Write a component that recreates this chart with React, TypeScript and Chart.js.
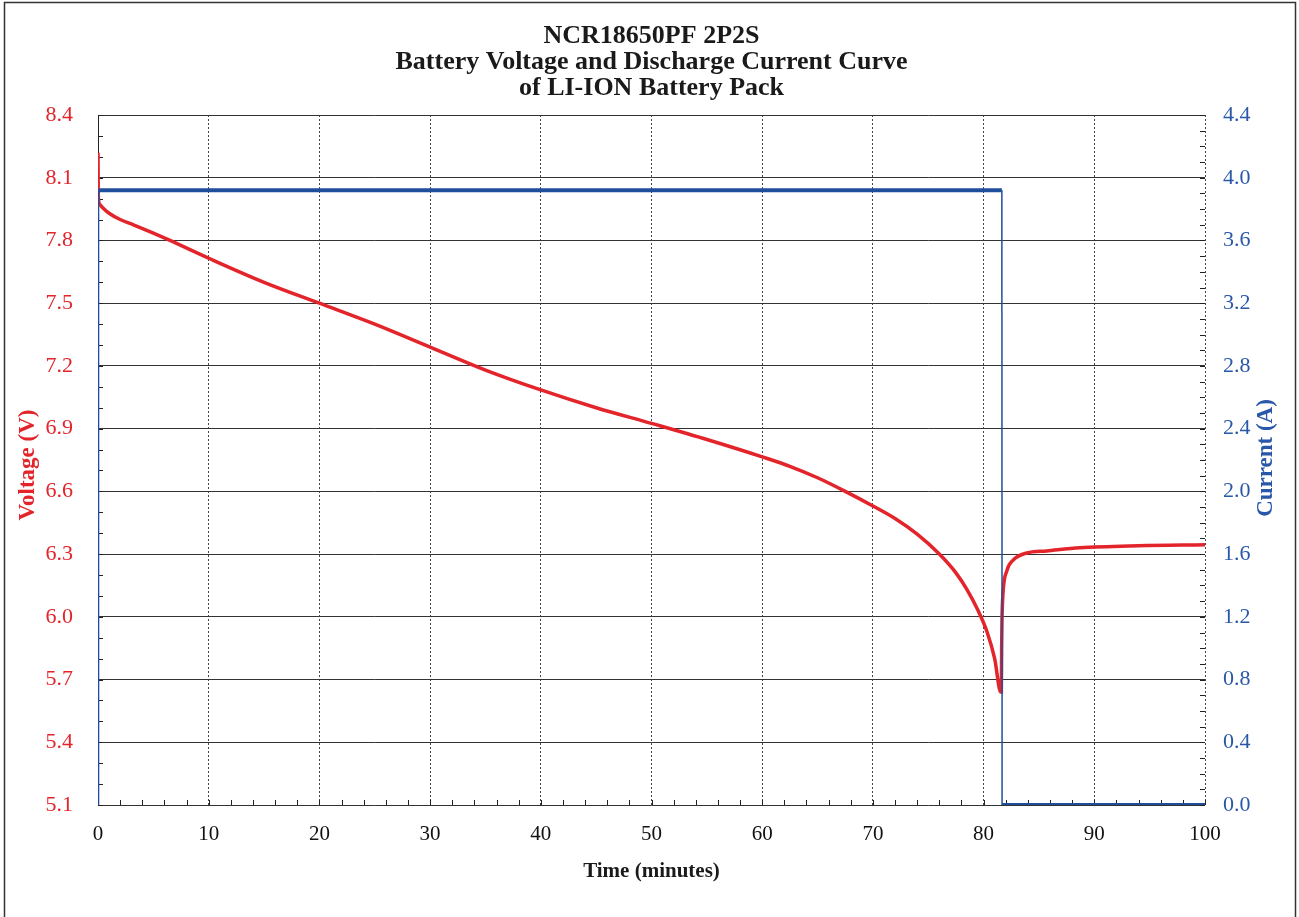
import React, { useEffect, useRef } from 'react';
import { Chart, registerables } from 'chart.js';

Chart.register(...registerables);

// ---- Text ----
const TITLE_LINES = ['NCR18650PF 2P2S', 'Battery Voltage and Discharge Current Curve', 'of LI-ION Battery Pack'];
const X_TITLE = 'Time (minutes)';
const Y_LEFT_TITLE = 'Voltage (V)';
const Y_RIGHT_TITLE = 'Current (A)';

// ---- Data ----
const voltageTime = [
  0, 0.02, 0.06, 0.2, 0.45, 1, 2, 3.2, 5, 6.5, 10, 15, 20, 25, 30, 35, 40, 45, 50, 55, 60, 62.5, 65, 67.5,
  70, 72, 74, 76, 77.5, 78.5, 79.5, 80.3, 81, 81.55, 81.6, 81.63, 81.66, 81.75, 82.1, 82.65, 83.9,
  85.7, 88.7, 94, 100,
];
const voltageValues = [
  8.22, 8.05, 7.99, 7.97, 7.955, 7.93, 7.9, 7.875, 7.835, 7.8, 7.715, 7.6, 7.5, 7.4, 7.29, 7.18, 7.085, 7.0,
  6.925, 6.848, 6.765, 6.72, 6.665, 6.6, 6.53, 6.47, 6.395, 6.3, 6.21, 6.13, 6.03, 5.93, 5.8, 5.64,
  5.64, 5.85, 5.98, 6.11, 6.22, 6.27, 6.305, 6.315, 6.33, 6.34, 6.345,
];
const currentTime = [0, 0.05, 81.65, 81.67, 100];
const currentValues = [0, 3.92, 3.92, 0, 0];

// ---- Axis ranges / ticks ----
const X_MIN = 0;
const X_MAX = 100;
const X_STEP = 10;
const X_MINOR = 2;
const V_MIN = 5.1;
const V_MAX = 8.4;
const V_STEP = 0.3;
const V_MINOR = 0.1;
const I_MIN = 0;
const I_MAX = 4.4;
const I_STEP = 0.4;
const I_MINOR = 0.1;

const RED = '#e3242b';
const BLUE = '#1f4f9c';
const BLUE_TEXT = '#2a58a8';
const SERIF = '"Liberation Serif", "Times New Roman", serif';

const W = 1299;
const H = 917;

const decorPlugin = {
  id: 'decor',
  beforeDatasetsDraw(chart: any) {
    const { ctx, chartArea, scales } = chart;
    ctx.save();
    ctx.strokeStyle = '#222';
    ctx.lineWidth = 1;
    ctx.beginPath();
    ctx.moveTo(Math.round(chartArea.left) + 0.5, chartArea.top);
    ctx.lineTo(Math.round(chartArea.left) + 0.5, chartArea.bottom);
    ctx.stroke();
    const L = 5;
    const y = scales.y;
    const n1 = Math.round((V_MAX - V_MIN) / V_MINOR);
    ctx.beginPath();
    for (let k = 0; k <= n1; k++) {
      const py = Math.round(y.getPixelForValue(V_MIN + k * V_MINOR)) + 0.5;
      ctx.moveTo(chartArea.left, py);
      ctx.lineTo(chartArea.left + L, py);
    }
    const y1 = scales.y1;
    const n2 = Math.round((I_MAX - I_MIN) / I_MINOR);
    for (let k = 0; k <= n2; k++) {
      const py = Math.round(y1.getPixelForValue(I_MIN + k * I_MINOR)) + 0.5;
      ctx.moveTo(chartArea.right, py);
      ctx.lineTo(chartArea.right - L, py);
    }
    const x = scales.x;
    const n3 = Math.round((X_MAX - X_MIN) / X_MINOR);
    for (let k = 0; k <= n3; k++) {
      const px = Math.round(x.getPixelForValue(X_MIN + k * X_MINOR)) + 0.5;
      ctx.moveTo(px, chartArea.bottom);
      ctx.lineTo(px, chartArea.bottom - L);
    }
    ctx.stroke();
    ctx.restore();
  },
  afterDraw(chart: any) {
    const { ctx, chartArea } = chart;
    ctx.save();
    ctx.strokeStyle = '#333';
    ctx.lineWidth = 1.5;
    ctx.strokeRect(4.5, 2.5, 1291, 1000);
    ctx.fillStyle = '#1a1a1a';
    ctx.textAlign = 'center';
    ctx.textBaseline = 'middle';
    ctx.font = `bold 26px ${SERIF}`;
    const cx = (chartArea.left + chartArea.right) / 2;
    TITLE_LINES.forEach((t, i) => ctx.fillText(t, cx, 36 + i * 26));
    ctx.font = `bold 21px ${SERIF}`;
    ctx.fillText(X_TITLE, cx, 872);
    const cy = (chartArea.top + chartArea.bottom) / 2;
    ctx.font = `bold 23px ${SERIF}`;
    ctx.save();
    ctx.translate(28, cy + 5);
    ctx.rotate(-Math.PI / 2);
    ctx.fillStyle = RED;
    ctx.fillText(Y_LEFT_TITLE, 0, 0);
    ctx.restore();
    ctx.save();
    ctx.translate(1266, cy - 2);
    ctx.rotate(-Math.PI / 2);
    ctx.fillStyle = BLUE_TEXT;
    ctx.fillText(Y_RIGHT_TITLE, 0, 0);
    ctx.restore();
    ctx.restore();
  },
};

export default function App() {
  const ref = useRef<HTMLCanvasElement | null>(null);
  useEffect(() => {
    if (!ref.current) return;
    const chart = new Chart(ref.current, {
      type: 'line',
      data: {
        datasets: [
          {
            label: 'Current',
            data: currentTime.map((t, i) => ({ x: t, y: currentValues[i] })),
            yAxisID: 'y1',
            borderColor: BLUE,
            borderWidth: 4,
            pointRadius: 0,
            tension: 0,
            segment: {
              borderWidth: (c: any) => (Math.abs(c.p1.parsed.x - c.p0.parsed.x) < 0.1 ? 1.5 : 4),
            },
          } as any,
          {
            label: 'Voltage',
            data: voltageTime.map((t, i) => ({ x: t, y: voltageValues[i] })),
            yAxisID: 'y',
            borderColor: RED,
            borderWidth: 3.5,
            pointRadius: 0,
            cubicInterpolationMode: 'monotone',
          } as any,
        ],
      },
      options: {
        responsive: false,
        animation: false,
        layout: { padding: { top: 115, left: 0, right: 0, bottom: 0 } },
        plugins: { legend: { display: false }, tooltip: { enabled: false }, title: { display: false } },
        scales: {
          x: {
            type: 'linear',
            min: X_MIN,
            max: X_MAX,
            ticks: {
              stepSize: X_STEP,
              color: '#111',
              font: { family: SERIF, size: 21 },
              padding: 17,
              maxRotation: 0,
              callback: (v: any) => String(v),
            },
            grid: { color: '#444', lineWidth: 1, drawTicks: false },
            border: { display: false, dash: [2, 2] },
            afterFit: (s: any) => {
              s.height = H - 805;
            },
          },
          y: {
            type: 'linear',
            position: 'left',
            min: V_MIN,
            max: V_MAX,
            ticks: {
              stepSize: V_STEP,
              color: RED,
              font: { family: SERIF, size: 22 },
              padding: 25,
              callback: (v: any) => Number(v).toFixed(1),
            },
            grid: { color: '#333', lineWidth: 1, drawTicks: false },
            border: { display: false },
            afterFit: (s: any) => {
              s.width = 98;
            },
          },
          y1: {
            type: 'linear',
            position: 'right',
            min: I_MIN,
            max: I_MAX,
            ticks: {
              stepSize: I_STEP,
              color: BLUE_TEXT,
              font: { family: SERIF, size: 22 },
              padding: 18,
              callback: (v: any) => Number(v).toFixed(1),
            },
            grid: { display: false, drawTicks: false },
            border: { display: false },
            afterFit: (s: any) => {
              s.width = W - 1205;
            },
          },
        },
      } as any,
      plugins: [decorPlugin],
    });
    return () => chart.destroy();
  }, []);
  return (
    <div style={{ position: 'absolute', left: 0, top: 0, width: W, height: H, background: '#fff' }}>
      <canvas ref={ref} width={W} height={H} style={{ display: 'block' }} />
    </div>
  );
}
